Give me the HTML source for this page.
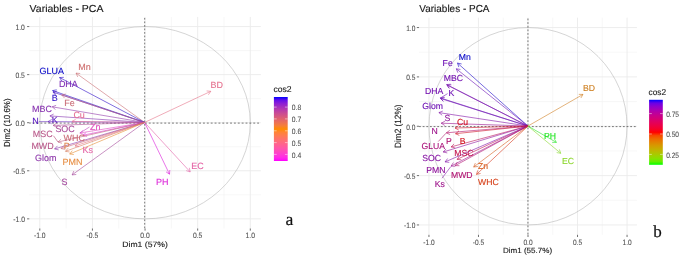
<!DOCTYPE html>
<html><head><meta charset="utf-8"><style>
html,body{margin:0;padding:0;background:#fff;}
body{width:685px;height:260px;overflow:hidden;font-family:"Liberation Sans",sans-serif;}
svg{display:block;filter:blur(0.35px);text-rendering:geometricPrecision;}
</style></head><body>
<svg width="685" height="260" viewBox="0 0 685 260">
<rect width="685" height="260" fill="#ffffff"/>
<line x1="66.11" y1="16.93" x2="66.11" y2="228.47" stroke="#f2f2f2" stroke-width="0.60"/>
<line x1="29.28" y1="194.81" x2="260.83" y2="194.81" stroke="#f2f2f2" stroke-width="0.60"/>
<line x1="118.74" y1="16.93" x2="118.74" y2="228.47" stroke="#f2f2f2" stroke-width="0.60"/>
<line x1="29.28" y1="146.74" x2="260.83" y2="146.74" stroke="#f2f2f2" stroke-width="0.60"/>
<line x1="171.36" y1="16.93" x2="171.36" y2="228.47" stroke="#f2f2f2" stroke-width="0.60"/>
<line x1="29.28" y1="98.66" x2="260.83" y2="98.66" stroke="#f2f2f2" stroke-width="0.60"/>
<line x1="223.99" y1="16.93" x2="223.99" y2="228.47" stroke="#f2f2f2" stroke-width="0.60"/>
<line x1="29.28" y1="50.59" x2="260.83" y2="50.59" stroke="#f2f2f2" stroke-width="0.60"/>
<line x1="39.80" y1="16.93" x2="39.80" y2="228.47" stroke="#ebebeb" stroke-width="0.90"/>
<line x1="29.28" y1="218.85" x2="260.83" y2="218.85" stroke="#ebebeb" stroke-width="0.90"/>
<line x1="92.43" y1="16.93" x2="92.43" y2="228.47" stroke="#ebebeb" stroke-width="0.90"/>
<line x1="29.28" y1="170.78" x2="260.83" y2="170.78" stroke="#ebebeb" stroke-width="0.90"/>
<line x1="145.05" y1="16.93" x2="145.05" y2="228.47" stroke="#ebebeb" stroke-width="0.90"/>
<line x1="29.28" y1="122.70" x2="260.83" y2="122.70" stroke="#ebebeb" stroke-width="0.90"/>
<line x1="197.68" y1="16.93" x2="197.68" y2="228.47" stroke="#ebebeb" stroke-width="0.90"/>
<line x1="29.28" y1="74.62" x2="260.83" y2="74.62" stroke="#ebebeb" stroke-width="0.90"/>
<line x1="250.30" y1="16.93" x2="250.30" y2="228.47" stroke="#ebebeb" stroke-width="0.90"/>
<line x1="29.28" y1="26.55" x2="260.83" y2="26.55" stroke="#ebebeb" stroke-width="0.90"/>
<ellipse cx="145.05" cy="122.70" rx="105.25" ry="96.15" fill="none" stroke="#b8b8b8" stroke-width="0.6"/>
<line x1="29.28" y1="123.10" x2="30.73" y2="123.10" stroke="#222" stroke-width="0.60"/>
<line x1="32.70" y1="123.10" x2="34.60" y2="123.10" stroke="#222" stroke-width="0.60"/>
<line x1="36.57" y1="123.10" x2="38.47" y2="123.10" stroke="#222" stroke-width="0.60"/>
<line x1="40.44" y1="123.10" x2="42.34" y2="123.10" stroke="#222" stroke-width="0.60"/>
<line x1="44.31" y1="123.10" x2="46.21" y2="123.10" stroke="#222" stroke-width="0.60"/>
<line x1="48.18" y1="123.10" x2="50.08" y2="123.10" stroke="#222" stroke-width="0.60"/>
<line x1="52.05" y1="123.10" x2="53.95" y2="123.10" stroke="#222" stroke-width="0.60"/>
<line x1="55.92" y1="123.10" x2="57.82" y2="123.10" stroke="#222" stroke-width="0.60"/>
<line x1="59.79" y1="123.10" x2="61.69" y2="123.10" stroke="#222" stroke-width="0.60"/>
<line x1="63.66" y1="123.10" x2="65.56" y2="123.10" stroke="#222" stroke-width="0.60"/>
<line x1="67.53" y1="123.10" x2="69.43" y2="123.10" stroke="#222" stroke-width="0.60"/>
<line x1="71.40" y1="123.10" x2="73.30" y2="123.10" stroke="#222" stroke-width="0.60"/>
<line x1="75.27" y1="123.10" x2="77.17" y2="123.10" stroke="#222" stroke-width="0.60"/>
<line x1="79.14" y1="123.10" x2="81.04" y2="123.10" stroke="#222" stroke-width="0.60"/>
<line x1="83.01" y1="123.10" x2="84.91" y2="123.10" stroke="#222" stroke-width="0.60"/>
<line x1="86.88" y1="123.10" x2="88.78" y2="123.10" stroke="#222" stroke-width="0.60"/>
<line x1="90.75" y1="123.10" x2="92.65" y2="123.10" stroke="#222" stroke-width="0.60"/>
<line x1="94.62" y1="123.10" x2="96.52" y2="123.10" stroke="#222" stroke-width="0.60"/>
<line x1="98.49" y1="123.10" x2="100.39" y2="123.10" stroke="#222" stroke-width="0.60"/>
<line x1="102.36" y1="123.10" x2="104.26" y2="123.10" stroke="#222" stroke-width="0.60"/>
<line x1="106.23" y1="123.10" x2="108.13" y2="123.10" stroke="#222" stroke-width="0.60"/>
<line x1="110.10" y1="123.10" x2="112.00" y2="123.10" stroke="#222" stroke-width="0.60"/>
<line x1="113.97" y1="123.10" x2="115.87" y2="123.10" stroke="#222" stroke-width="0.60"/>
<line x1="117.84" y1="123.10" x2="119.74" y2="123.10" stroke="#222" stroke-width="0.60"/>
<line x1="121.71" y1="123.10" x2="123.61" y2="123.10" stroke="#222" stroke-width="0.60"/>
<line x1="125.58" y1="123.10" x2="127.48" y2="123.10" stroke="#222" stroke-width="0.60"/>
<line x1="129.45" y1="123.10" x2="131.35" y2="123.10" stroke="#222" stroke-width="0.60"/>
<line x1="133.32" y1="123.10" x2="135.22" y2="123.10" stroke="#222" stroke-width="0.60"/>
<line x1="137.19" y1="123.10" x2="139.09" y2="123.10" stroke="#222" stroke-width="0.60"/>
<line x1="141.06" y1="123.10" x2="142.96" y2="123.10" stroke="#222" stroke-width="0.60"/>
<line x1="144.93" y1="123.10" x2="146.83" y2="123.10" stroke="#222" stroke-width="0.60"/>
<line x1="148.80" y1="123.10" x2="150.70" y2="123.10" stroke="#222" stroke-width="0.60"/>
<line x1="152.67" y1="123.10" x2="154.57" y2="123.10" stroke="#222" stroke-width="0.60"/>
<line x1="156.54" y1="123.10" x2="158.44" y2="123.10" stroke="#222" stroke-width="0.60"/>
<line x1="160.41" y1="123.10" x2="162.31" y2="123.10" stroke="#222" stroke-width="0.60"/>
<line x1="164.28" y1="123.10" x2="166.18" y2="123.10" stroke="#222" stroke-width="0.60"/>
<line x1="168.15" y1="123.10" x2="170.05" y2="123.10" stroke="#222" stroke-width="0.60"/>
<line x1="172.02" y1="123.10" x2="173.92" y2="123.10" stroke="#222" stroke-width="0.60"/>
<line x1="175.89" y1="123.10" x2="177.79" y2="123.10" stroke="#222" stroke-width="0.60"/>
<line x1="179.76" y1="123.10" x2="181.66" y2="123.10" stroke="#222" stroke-width="0.60"/>
<line x1="183.63" y1="123.10" x2="185.53" y2="123.10" stroke="#222" stroke-width="0.60"/>
<line x1="187.50" y1="123.10" x2="189.40" y2="123.10" stroke="#222" stroke-width="0.60"/>
<line x1="191.37" y1="123.10" x2="193.27" y2="123.10" stroke="#222" stroke-width="0.60"/>
<line x1="195.24" y1="123.10" x2="197.14" y2="123.10" stroke="#222" stroke-width="0.60"/>
<line x1="199.11" y1="123.10" x2="201.01" y2="123.10" stroke="#222" stroke-width="0.60"/>
<line x1="202.98" y1="123.10" x2="204.88" y2="123.10" stroke="#222" stroke-width="0.60"/>
<line x1="206.85" y1="123.10" x2="208.75" y2="123.10" stroke="#222" stroke-width="0.60"/>
<line x1="210.72" y1="123.10" x2="212.62" y2="123.10" stroke="#222" stroke-width="0.60"/>
<line x1="214.59" y1="123.10" x2="216.49" y2="123.10" stroke="#222" stroke-width="0.60"/>
<line x1="218.46" y1="123.10" x2="220.36" y2="123.10" stroke="#222" stroke-width="0.60"/>
<line x1="222.33" y1="123.10" x2="224.23" y2="123.10" stroke="#222" stroke-width="0.60"/>
<line x1="226.20" y1="123.10" x2="228.10" y2="123.10" stroke="#222" stroke-width="0.60"/>
<line x1="230.07" y1="123.10" x2="231.97" y2="123.10" stroke="#222" stroke-width="0.60"/>
<line x1="233.94" y1="123.10" x2="235.84" y2="123.10" stroke="#222" stroke-width="0.60"/>
<line x1="237.81" y1="123.10" x2="239.71" y2="123.10" stroke="#222" stroke-width="0.60"/>
<line x1="241.68" y1="123.10" x2="243.58" y2="123.10" stroke="#222" stroke-width="0.60"/>
<line x1="245.55" y1="123.10" x2="247.45" y2="123.10" stroke="#222" stroke-width="0.60"/>
<line x1="249.42" y1="123.10" x2="251.32" y2="123.10" stroke="#222" stroke-width="0.60"/>
<line x1="253.29" y1="123.10" x2="255.19" y2="123.10" stroke="#222" stroke-width="0.60"/>
<line x1="257.16" y1="123.10" x2="259.06" y2="123.10" stroke="#222" stroke-width="0.60"/>
<line x1="144.70" y1="17.92" x2="144.70" y2="19.62" stroke="#222" stroke-width="0.60"/>
<line x1="144.70" y1="21.45" x2="144.70" y2="23.16" stroke="#222" stroke-width="0.60"/>
<line x1="144.70" y1="24.99" x2="144.70" y2="26.69" stroke="#222" stroke-width="0.60"/>
<line x1="144.70" y1="28.52" x2="144.70" y2="30.23" stroke="#222" stroke-width="0.60"/>
<line x1="144.70" y1="32.06" x2="144.70" y2="33.76" stroke="#222" stroke-width="0.60"/>
<line x1="144.70" y1="35.59" x2="144.70" y2="37.29" stroke="#222" stroke-width="0.60"/>
<line x1="144.70" y1="39.13" x2="144.70" y2="40.83" stroke="#222" stroke-width="0.60"/>
<line x1="144.70" y1="42.66" x2="144.70" y2="44.36" stroke="#222" stroke-width="0.60"/>
<line x1="144.70" y1="46.20" x2="144.70" y2="47.90" stroke="#222" stroke-width="0.60"/>
<line x1="144.70" y1="49.73" x2="144.70" y2="51.43" stroke="#222" stroke-width="0.60"/>
<line x1="144.70" y1="53.27" x2="144.70" y2="54.97" stroke="#222" stroke-width="0.60"/>
<line x1="144.70" y1="56.80" x2="144.70" y2="58.50" stroke="#222" stroke-width="0.60"/>
<line x1="144.70" y1="60.34" x2="144.70" y2="62.04" stroke="#222" stroke-width="0.60"/>
<line x1="144.70" y1="63.87" x2="144.70" y2="65.57" stroke="#222" stroke-width="0.60"/>
<line x1="144.70" y1="67.41" x2="144.70" y2="69.11" stroke="#222" stroke-width="0.60"/>
<line x1="144.70" y1="70.94" x2="144.70" y2="72.64" stroke="#222" stroke-width="0.60"/>
<line x1="144.70" y1="74.48" x2="144.70" y2="76.18" stroke="#222" stroke-width="0.60"/>
<line x1="144.70" y1="78.01" x2="144.70" y2="79.71" stroke="#222" stroke-width="0.60"/>
<line x1="144.70" y1="81.55" x2="144.70" y2="83.25" stroke="#222" stroke-width="0.60"/>
<line x1="144.70" y1="85.08" x2="144.70" y2="86.78" stroke="#222" stroke-width="0.60"/>
<line x1="144.70" y1="88.62" x2="144.70" y2="90.32" stroke="#222" stroke-width="0.60"/>
<line x1="144.70" y1="92.15" x2="144.70" y2="93.85" stroke="#222" stroke-width="0.60"/>
<line x1="144.70" y1="95.69" x2="144.70" y2="97.39" stroke="#222" stroke-width="0.60"/>
<line x1="144.70" y1="99.22" x2="144.70" y2="100.92" stroke="#222" stroke-width="0.60"/>
<line x1="144.70" y1="102.76" x2="144.70" y2="104.46" stroke="#222" stroke-width="0.60"/>
<line x1="144.70" y1="106.29" x2="144.70" y2="107.99" stroke="#222" stroke-width="0.60"/>
<line x1="144.70" y1="109.83" x2="144.70" y2="111.53" stroke="#222" stroke-width="0.60"/>
<line x1="144.70" y1="113.36" x2="144.70" y2="115.06" stroke="#222" stroke-width="0.60"/>
<line x1="144.70" y1="116.90" x2="144.70" y2="118.60" stroke="#222" stroke-width="0.60"/>
<line x1="144.70" y1="120.43" x2="144.70" y2="122.13" stroke="#222" stroke-width="0.60"/>
<line x1="144.70" y1="123.97" x2="144.70" y2="125.67" stroke="#222" stroke-width="0.60"/>
<line x1="144.70" y1="127.50" x2="144.70" y2="129.20" stroke="#222" stroke-width="0.60"/>
<line x1="144.70" y1="131.04" x2="144.70" y2="132.74" stroke="#222" stroke-width="0.60"/>
<line x1="144.70" y1="134.57" x2="144.70" y2="136.27" stroke="#222" stroke-width="0.60"/>
<line x1="144.70" y1="138.11" x2="144.70" y2="139.81" stroke="#222" stroke-width="0.60"/>
<line x1="144.70" y1="141.64" x2="144.70" y2="143.34" stroke="#222" stroke-width="0.60"/>
<line x1="144.70" y1="145.18" x2="144.70" y2="146.88" stroke="#222" stroke-width="0.60"/>
<line x1="144.70" y1="148.71" x2="144.70" y2="150.41" stroke="#222" stroke-width="0.60"/>
<line x1="144.70" y1="152.25" x2="144.70" y2="153.95" stroke="#222" stroke-width="0.60"/>
<line x1="144.70" y1="155.78" x2="144.70" y2="157.48" stroke="#222" stroke-width="0.60"/>
<line x1="144.70" y1="159.32" x2="144.70" y2="161.02" stroke="#222" stroke-width="0.60"/>
<line x1="144.70" y1="162.85" x2="144.70" y2="164.55" stroke="#222" stroke-width="0.60"/>
<line x1="144.70" y1="166.39" x2="144.70" y2="168.09" stroke="#222" stroke-width="0.60"/>
<line x1="144.70" y1="169.92" x2="144.70" y2="171.62" stroke="#222" stroke-width="0.60"/>
<line x1="144.70" y1="173.46" x2="144.70" y2="175.16" stroke="#222" stroke-width="0.60"/>
<line x1="144.70" y1="176.99" x2="144.70" y2="178.69" stroke="#222" stroke-width="0.60"/>
<line x1="144.70" y1="180.53" x2="144.70" y2="182.23" stroke="#222" stroke-width="0.60"/>
<line x1="144.70" y1="184.06" x2="144.70" y2="185.76" stroke="#222" stroke-width="0.60"/>
<line x1="144.70" y1="187.60" x2="144.70" y2="189.30" stroke="#222" stroke-width="0.60"/>
<line x1="144.70" y1="191.13" x2="144.70" y2="192.83" stroke="#222" stroke-width="0.60"/>
<line x1="144.70" y1="194.67" x2="144.70" y2="196.37" stroke="#222" stroke-width="0.60"/>
<line x1="144.70" y1="198.20" x2="144.70" y2="199.90" stroke="#222" stroke-width="0.60"/>
<line x1="144.70" y1="201.74" x2="144.70" y2="203.44" stroke="#222" stroke-width="0.60"/>
<line x1="144.70" y1="205.27" x2="144.70" y2="206.97" stroke="#222" stroke-width="0.60"/>
<line x1="144.70" y1="208.81" x2="144.70" y2="210.51" stroke="#222" stroke-width="0.60"/>
<line x1="144.70" y1="212.34" x2="144.70" y2="214.04" stroke="#222" stroke-width="0.60"/>
<line x1="144.70" y1="215.88" x2="144.70" y2="217.58" stroke="#222" stroke-width="0.60"/>
<line x1="144.70" y1="219.41" x2="144.70" y2="221.11" stroke="#222" stroke-width="0.60"/>
<line x1="144.70" y1="222.95" x2="144.70" y2="224.65" stroke="#222" stroke-width="0.60"/>
<line x1="144.70" y1="226.48" x2="144.70" y2="228.18" stroke="#222" stroke-width="0.60"/>
<line x1="27.08" y1="218.85" x2="29.28" y2="218.85" stroke="#333" stroke-width="0.70"/>
<line x1="39.80" y1="228.47" x2="39.80" y2="230.67" stroke="#333" stroke-width="0.70"/>
<text transform="translate(24.90,222.16) scale(0.870,1.000)" font-family="Liberation Sans, sans-serif" font-size="7.80" fill="#4d4d4d" stroke="#4d4d4d" stroke-width="0.08" text-anchor="end" font-weight="normal">-1.0</text>
<text transform="translate(39.80,237.90) scale(0.870,1.000)" font-family="Liberation Sans, sans-serif" font-size="7.80" fill="#4d4d4d" stroke="#4d4d4d" stroke-width="0.08" text-anchor="middle" font-weight="normal">-1.0</text>
<line x1="27.08" y1="170.78" x2="29.28" y2="170.78" stroke="#333" stroke-width="0.70"/>
<line x1="92.43" y1="228.47" x2="92.43" y2="230.67" stroke="#333" stroke-width="0.70"/>
<text transform="translate(24.90,174.08) scale(0.870,1.000)" font-family="Liberation Sans, sans-serif" font-size="7.80" fill="#4d4d4d" stroke="#4d4d4d" stroke-width="0.08" text-anchor="end" font-weight="normal">-0.5</text>
<text transform="translate(92.43,237.90) scale(0.870,1.000)" font-family="Liberation Sans, sans-serif" font-size="7.80" fill="#4d4d4d" stroke="#4d4d4d" stroke-width="0.08" text-anchor="middle" font-weight="normal">-0.5</text>
<line x1="27.08" y1="122.70" x2="29.28" y2="122.70" stroke="#333" stroke-width="0.70"/>
<line x1="145.05" y1="228.47" x2="145.05" y2="230.67" stroke="#333" stroke-width="0.70"/>
<text transform="translate(24.90,126.01) scale(0.870,1.000)" font-family="Liberation Sans, sans-serif" font-size="7.80" fill="#4d4d4d" stroke="#4d4d4d" stroke-width="0.08" text-anchor="end" font-weight="normal">0.0</text>
<text transform="translate(145.05,237.90) scale(0.870,1.000)" font-family="Liberation Sans, sans-serif" font-size="7.80" fill="#4d4d4d" stroke="#4d4d4d" stroke-width="0.08" text-anchor="middle" font-weight="normal">0.0</text>
<line x1="27.08" y1="74.62" x2="29.28" y2="74.62" stroke="#333" stroke-width="0.70"/>
<line x1="197.68" y1="228.47" x2="197.68" y2="230.67" stroke="#333" stroke-width="0.70"/>
<text transform="translate(24.90,77.93) scale(0.870,1.000)" font-family="Liberation Sans, sans-serif" font-size="7.80" fill="#4d4d4d" stroke="#4d4d4d" stroke-width="0.08" text-anchor="end" font-weight="normal">0.5</text>
<text transform="translate(197.68,237.90) scale(0.870,1.000)" font-family="Liberation Sans, sans-serif" font-size="7.80" fill="#4d4d4d" stroke="#4d4d4d" stroke-width="0.08" text-anchor="middle" font-weight="normal">0.5</text>
<line x1="27.08" y1="26.55" x2="29.28" y2="26.55" stroke="#333" stroke-width="0.70"/>
<line x1="250.30" y1="228.47" x2="250.30" y2="230.67" stroke="#333" stroke-width="0.70"/>
<text transform="translate(24.90,29.86) scale(0.870,1.000)" font-family="Liberation Sans, sans-serif" font-size="7.80" fill="#4d4d4d" stroke="#4d4d4d" stroke-width="0.08" text-anchor="end" font-weight="normal">1.0</text>
<text transform="translate(250.30,237.90) scale(0.870,1.000)" font-family="Liberation Sans, sans-serif" font-size="7.80" fill="#4d4d4d" stroke="#4d4d4d" stroke-width="0.08" text-anchor="middle" font-weight="normal">1.0</text>
<line x1="144.60" y1="122.45" x2="76.00" y2="73.10" stroke="#cb6e74" stroke-width="0.60"/>
<line x1="76.00" y1="73.10" x2="80.18" y2="73.52" stroke="#cb6e74" stroke-width="0.60"/>
<line x1="76.00" y1="73.10" x2="77.73" y2="76.93" stroke="#cb6e74" stroke-width="0.60"/>
<line x1="144.60" y1="122.45" x2="59.60" y2="77.50" stroke="#2b0cc7" stroke-width="0.60"/>
<line x1="59.60" y1="77.50" x2="63.80" y2="77.34" stroke="#2b0cc7" stroke-width="0.60"/>
<line x1="59.60" y1="77.50" x2="61.83" y2="81.06" stroke="#2b0cc7" stroke-width="0.60"/>
<line x1="144.60" y1="122.45" x2="52.60" y2="90.60" stroke="#1c0ac7" stroke-width="0.60"/>
<line x1="52.60" y1="90.60" x2="56.72" y2="89.81" stroke="#1c0ac7" stroke-width="0.60"/>
<line x1="52.60" y1="90.60" x2="55.35" y2="93.77" stroke="#1c0ac7" stroke-width="0.60"/>
<line x1="144.60" y1="122.45" x2="53.00" y2="92.10" stroke="#4e15c3" stroke-width="0.60"/>
<line x1="53.00" y1="92.10" x2="57.11" y2="91.25" stroke="#4e15c3" stroke-width="0.60"/>
<line x1="53.00" y1="92.10" x2="55.79" y2="95.24" stroke="#4e15c3" stroke-width="0.60"/>
<line x1="144.60" y1="122.45" x2="61.70" y2="94.90" stroke="#c6677b" stroke-width="0.60"/>
<line x1="61.70" y1="94.90" x2="65.81" y2="94.05" stroke="#c6677b" stroke-width="0.60"/>
<line x1="61.70" y1="94.90" x2="64.49" y2="98.04" stroke="#c6677b" stroke-width="0.60"/>
<line x1="144.60" y1="122.45" x2="52.20" y2="106.80" stroke="#9239a9" stroke-width="0.60"/>
<line x1="52.20" y1="106.80" x2="56.14" y2="105.34" stroke="#9239a9" stroke-width="0.60"/>
<line x1="52.20" y1="106.80" x2="55.44" y2="109.48" stroke="#9239a9" stroke-width="0.60"/>
<line x1="144.60" y1="122.45" x2="49.90" y2="115.90" stroke="#8430b0" stroke-width="0.60"/>
<line x1="49.90" y1="115.90" x2="53.67" y2="114.06" stroke="#8430b0" stroke-width="0.60"/>
<line x1="49.90" y1="115.90" x2="53.38" y2="118.25" stroke="#8430b0" stroke-width="0.60"/>
<line x1="144.60" y1="122.45" x2="48.00" y2="121.60" stroke="#6620bd" stroke-width="0.60"/>
<line x1="48.00" y1="121.60" x2="51.66" y2="119.53" stroke="#6620bd" stroke-width="0.60"/>
<line x1="48.00" y1="121.60" x2="51.62" y2="123.73" stroke="#6620bd" stroke-width="0.60"/>
<line x1="144.60" y1="122.45" x2="72.00" y2="121.40" stroke="#e56e92" stroke-width="0.60"/>
<line x1="72.00" y1="121.40" x2="75.67" y2="119.35" stroke="#e56e92" stroke-width="0.60"/>
<line x1="72.00" y1="121.40" x2="75.61" y2="123.55" stroke="#e56e92" stroke-width="0.60"/>
<line x1="144.60" y1="122.45" x2="53.10" y2="125.40" stroke="#ac4e95" stroke-width="0.60"/>
<line x1="53.10" y1="125.40" x2="56.67" y2="123.18" stroke="#ac4e95" stroke-width="0.60"/>
<line x1="53.10" y1="125.40" x2="56.80" y2="127.38" stroke="#ac4e95" stroke-width="0.60"/>
<line x1="144.60" y1="122.45" x2="79.90" y2="133.00" stroke="#e14cc2" stroke-width="0.60"/>
<line x1="79.90" y1="133.00" x2="83.15" y2="130.34" stroke="#e14cc2" stroke-width="0.60"/>
<line x1="79.90" y1="133.00" x2="83.83" y2="134.49" stroke="#e14cc2" stroke-width="0.60"/>
<line x1="144.60" y1="122.45" x2="83.10" y2="135.20" stroke="#de37d2" stroke-width="0.60"/>
<line x1="83.10" y1="135.20" x2="86.24" y2="132.41" stroke="#de37d2" stroke-width="0.60"/>
<line x1="83.10" y1="135.20" x2="87.09" y2="136.52" stroke="#de37d2" stroke-width="0.60"/>
<line x1="144.60" y1="122.45" x2="58.00" y2="142.00" stroke="#c06182" stroke-width="0.60"/>
<line x1="58.00" y1="142.00" x2="61.09" y2="139.15" stroke="#c06182" stroke-width="0.60"/>
<line x1="58.00" y1="142.00" x2="62.01" y2="143.25" stroke="#c06182" stroke-width="0.60"/>
<line x1="144.60" y1="122.45" x2="54.60" y2="148.90" stroke="#8b35ac" stroke-width="0.60"/>
<line x1="54.60" y1="148.90" x2="57.50" y2="145.86" stroke="#8b35ac" stroke-width="0.60"/>
<line x1="54.60" y1="148.90" x2="58.68" y2="149.89" stroke="#8b35ac" stroke-width="0.60"/>
<line x1="144.60" y1="122.45" x2="61.10" y2="148.50" stroke="#c76879" stroke-width="0.60"/>
<line x1="61.10" y1="148.50" x2="63.95" y2="145.41" stroke="#c76879" stroke-width="0.60"/>
<line x1="61.10" y1="148.50" x2="65.20" y2="149.42" stroke="#c76879" stroke-width="0.60"/>
<line x1="144.60" y1="122.45" x2="65.50" y2="151.30" stroke="#d97e5e" stroke-width="0.60"/>
<line x1="65.50" y1="151.30" x2="68.20" y2="148.08" stroke="#d97e5e" stroke-width="0.60"/>
<line x1="65.50" y1="151.30" x2="69.64" y2="152.03" stroke="#d97e5e" stroke-width="0.60"/>
<line x1="144.60" y1="122.45" x2="75.00" y2="146.00" stroke="#e57587" stroke-width="0.60"/>
<line x1="75.00" y1="146.00" x2="77.77" y2="142.84" stroke="#e57587" stroke-width="0.60"/>
<line x1="75.00" y1="146.00" x2="79.12" y2="146.82" stroke="#e57587" stroke-width="0.60"/>
<line x1="144.60" y1="122.45" x2="69.70" y2="154.00" stroke="#e68f34" stroke-width="0.60"/>
<line x1="69.70" y1="154.00" x2="72.24" y2="150.65" stroke="#e68f34" stroke-width="0.60"/>
<line x1="69.70" y1="154.00" x2="73.87" y2="154.52" stroke="#e68f34" stroke-width="0.60"/>
<line x1="144.60" y1="122.45" x2="72.10" y2="174.90" stroke="#a5489b" stroke-width="0.60"/>
<line x1="72.10" y1="174.90" x2="73.82" y2="171.07" stroke="#a5489b" stroke-width="0.60"/>
<line x1="72.10" y1="174.90" x2="76.28" y2="174.47" stroke="#a5489b" stroke-width="0.60"/>
<line x1="144.60" y1="122.45" x2="169.50" y2="174.20" stroke="#da1ada" stroke-width="0.60"/>
<line x1="169.50" y1="174.20" x2="166.03" y2="171.83" stroke="#da1ada" stroke-width="0.60"/>
<line x1="169.50" y1="174.20" x2="169.82" y2="170.01" stroke="#da1ada" stroke-width="0.60"/>
<line x1="144.60" y1="122.45" x2="190.20" y2="171.90" stroke="#e362a7" stroke-width="0.60"/>
<line x1="190.20" y1="171.90" x2="186.19" y2="170.65" stroke="#e362a7" stroke-width="0.60"/>
<line x1="190.20" y1="171.90" x2="189.28" y2="167.80" stroke="#e362a7" stroke-width="0.60"/>
<line x1="144.60" y1="122.45" x2="210.80" y2="91.30" stroke="#e5738a" stroke-width="0.60"/>
<line x1="210.80" y1="91.30" x2="208.40" y2="94.75" stroke="#e5738a" stroke-width="0.60"/>
<line x1="210.80" y1="91.30" x2="206.61" y2="90.95" stroke="#e5738a" stroke-width="0.60"/>
<line x1="38.80" y1="121.60" x2="48.00" y2="121.60" stroke="#7444c0" stroke-width="0.65"/>
<line x1="53.50" y1="135.80" x2="58.00" y2="142.00" stroke="#ba567e" stroke-width="0.65"/>
<line x1="79.90" y1="133.00" x2="89.50" y2="127.00" stroke="#c951c9" stroke-width="0.65"/>
<text transform="translate(78.30,69.80) scale(0.985,1.000)" font-family="Liberation Sans, sans-serif" font-size="9.10" fill="#ce7070" stroke="#ce7070" stroke-width="0.12" text-anchor="start" font-weight="normal">Mn</text>
<text transform="translate(39.50,73.50) scale(0.985,1.000)" font-family="Liberation Sans, sans-serif" font-size="9.10" fill="#0707c7" stroke="#0707c7" stroke-width="0.12" text-anchor="start" font-weight="normal">GLUA</text>
<text transform="translate(58.90,86.60) scale(0.985,1.000)" font-family="Liberation Sans, sans-serif" font-size="9.10" fill="#7d2cb4" stroke="#7d2cb4" stroke-width="0.12" text-anchor="start" font-weight="normal">DHA</text>
<text transform="translate(51.80,100.50) scale(0.985,1.000)" font-family="Liberation Sans, sans-serif" font-size="9.10" fill="#2c0cc7" stroke="#2c0cc7" stroke-width="0.12" text-anchor="start" font-weight="normal">B</text>
<text transform="translate(64.20,105.60) scale(0.985,1.000)" font-family="Liberation Sans, sans-serif" font-size="9.10" fill="#ca6c76" stroke="#ca6c76" stroke-width="0.12" text-anchor="start" font-weight="normal">Fe</text>
<text transform="translate(32.00,112.30) scale(0.985,1.000)" font-family="Liberation Sans, sans-serif" font-size="9.10" fill="#8631af" stroke="#8631af" stroke-width="0.12" text-anchor="start" font-weight="normal">MBC</text>
<text transform="translate(51.80,123.00) scale(0.985,1.000)" font-family="Liberation Sans, sans-serif" font-size="9.10" fill="#591ac0" stroke="#591ac0" stroke-width="0.12" text-anchor="start" font-weight="normal">K</text>
<text transform="translate(32.30,124.20) scale(0.985,1.000)" font-family="Liberation Sans, sans-serif" font-size="9.10" fill="#591ac0" stroke="#591ac0" stroke-width="0.12" text-anchor="start" font-weight="normal">N</text>
<text transform="translate(73.40,117.70) scale(0.985,1.000)" font-family="Liberation Sans, sans-serif" font-size="9.10" fill="#e56e94" stroke="#e56e94" stroke-width="0.12" text-anchor="start" font-weight="normal">Cu</text>
<text transform="translate(55.40,131.90) scale(0.985,1.000)" font-family="Liberation Sans, sans-serif" font-size="9.10" fill="#a94b99" stroke="#a94b99" stroke-width="0.12" text-anchor="start" font-weight="normal">SOC</text>
<text transform="translate(90.00,129.60) scale(0.985,1.000)" font-family="Liberation Sans, sans-serif" font-size="9.10" fill="#e14fbf" stroke="#e14fbf" stroke-width="0.12" text-anchor="start" font-weight="normal">Zn</text>
<text transform="translate(32.80,136.50) scale(0.985,1.000)" font-family="Liberation Sans, sans-serif" font-size="9.10" fill="#b9598a" stroke="#b9598a" stroke-width="0.12" text-anchor="start" font-weight="normal">MSC</text>
<text transform="translate(63.50,140.80) scale(0.985,1.000)" font-family="Liberation Sans, sans-serif" font-size="9.10" fill="#ca6c76" stroke="#ca6c76" stroke-width="0.12" text-anchor="start" font-weight="normal">WHC</text>
<text transform="translate(31.40,148.80) scale(0.985,1.000)" font-family="Liberation Sans, sans-serif" font-size="9.10" fill="#b9598a" stroke="#b9598a" stroke-width="0.12" text-anchor="start" font-weight="normal">MWD</text>
<text transform="translate(63.70,148.80) scale(0.985,1.000)" font-family="Liberation Sans, sans-serif" font-size="9.10" fill="#e0874f" stroke="#e0874f" stroke-width="0.12" text-anchor="start" font-weight="normal">P</text>
<text transform="translate(82.50,152.80) scale(0.985,1.000)" font-family="Liberation Sans, sans-serif" font-size="9.10" fill="#e464a5" stroke="#e464a5" stroke-width="0.12" text-anchor="start" font-weight="normal">Ks</text>
<text transform="translate(35.10,160.60) scale(0.985,1.000)" font-family="Liberation Sans, sans-serif" font-size="9.10" fill="#8e37ab" stroke="#8e37ab" stroke-width="0.12" text-anchor="start" font-weight="normal">Glom</text>
<text transform="translate(62.50,165.00) scale(0.985,1.000)" font-family="Liberation Sans, sans-serif" font-size="9.10" fill="#e78e43" stroke="#e78e43" stroke-width="0.12" text-anchor="start" font-weight="normal">PMN</text>
<text transform="translate(61.60,185.10) scale(0.985,1.000)" font-family="Liberation Sans, sans-serif" font-size="9.10" fill="#a3469d" stroke="#a3469d" stroke-width="0.12" text-anchor="start" font-weight="normal">S</text>
<text transform="translate(156.10,184.90) scale(0.985,1.000)" font-family="Liberation Sans, sans-serif" font-size="9.10" fill="#dc28d8" stroke="#dc28d8" stroke-width="0.12" text-anchor="start" font-weight="normal">PH</text>
<text transform="translate(191.20,168.90) scale(0.985,1.000)" font-family="Liberation Sans, sans-serif" font-size="9.10" fill="#e464a5" stroke="#e464a5" stroke-width="0.12" text-anchor="start" font-weight="normal">EC</text>
<text transform="translate(210.60,87.80) scale(0.985,1.000)" font-family="Liberation Sans, sans-serif" font-size="9.10" fill="#e5718e" stroke="#e5718e" stroke-width="0.12" text-anchor="start" font-weight="normal">BD</text>
<text transform="translate(29.58,11.80) scale(1.030,1.000)" font-family="Liberation Sans, sans-serif" font-size="10.20" fill="#1a1a1a" stroke="#1a1a1a" stroke-width="0.15" text-anchor="start" font-weight="normal">Variables - PCA</text>
<text transform="translate(145.05,246.80) scale(1.120,1.000)" font-family="Liberation Sans, sans-serif" font-size="7.70" fill="#1a1a1a" stroke="#1a1a1a" stroke-width="0.12" text-anchor="middle" font-weight="normal">Dim1 (57%)</text>
<text transform="translate(9.80,122.70) rotate(-90) scale(1.000,1.100)" font-family="Liberation Sans, sans-serif" font-size="7.95" fill="#1a1a1a" stroke="#1a1a1a" stroke-width="0.12" text-anchor="middle" font-weight="normal">Dim2 (10.6%)</text>
<defs><linearGradient id="gL" x1="0" y1="0" x2="0" y2="1"><stop offset="0.000" stop-color="#0000ff"/><stop offset="0.050" stop-color="#650eea"/><stop offset="0.100" stop-color="#8a1ed5"/><stop offset="0.150" stop-color="#a32dc0"/><stop offset="0.200" stop-color="#b73bab"/><stop offset="0.250" stop-color="#c84996"/><stop offset="0.300" stop-color="#d65781"/><stop offset="0.350" stop-color="#e2646b"/><stop offset="0.400" stop-color="#ec7154"/><stop offset="0.450" stop-color="#f67f38"/><stop offset="0.500" stop-color="#ff8c00"/><stop offset="0.550" stop-color="#ff8434"/><stop offset="0.600" stop-color="#ff7c50"/><stop offset="0.650" stop-color="#ff7368"/><stop offset="0.700" stop-color="#ff6a7e"/><stop offset="0.750" stop-color="#ff6093"/><stop offset="0.800" stop-color="#ff56a9"/><stop offset="0.850" stop-color="#ff49be"/><stop offset="0.900" stop-color="#ff3bd4"/><stop offset="0.950" stop-color="#ff28e9"/><stop offset="1.000" stop-color="#ff00ff"/></linearGradient></defs>
<rect x="273.90" y="97.00" width="13.80" height="64.00" fill="url(#gL)"/>
<text transform="translate(273.40,92.40) scale(1.040,1.000)" font-family="Liberation Sans, sans-serif" font-size="8.30" fill="#1a1a1a" stroke="#1a1a1a" stroke-width="0.12" text-anchor="start" font-weight="normal">cos2</text>
<line x1="273.90" y1="107.10" x2="276.66" y2="107.10" stroke="#ffffff" stroke-width="0.60" stroke-opacity="0.8"/>
<line x1="284.94" y1="107.10" x2="287.70" y2="107.10" stroke="#ffffff" stroke-width="0.60" stroke-opacity="0.8"/>
<text transform="translate(291.80,110.26) scale(0.870,1.000)" font-family="Liberation Sans, sans-serif" font-size="7.80" fill="#4d4d4d" stroke="#4d4d4d" stroke-width="0.08" text-anchor="start" font-weight="normal">0.8</text>
<line x1="273.90" y1="118.90" x2="276.66" y2="118.90" stroke="#ffffff" stroke-width="0.60" stroke-opacity="0.8"/>
<line x1="284.94" y1="118.90" x2="287.70" y2="118.90" stroke="#ffffff" stroke-width="0.60" stroke-opacity="0.8"/>
<text transform="translate(291.80,122.06) scale(0.870,1.000)" font-family="Liberation Sans, sans-serif" font-size="7.80" fill="#4d4d4d" stroke="#4d4d4d" stroke-width="0.08" text-anchor="start" font-weight="normal">0.7</text>
<line x1="273.90" y1="130.80" x2="276.66" y2="130.80" stroke="#ffffff" stroke-width="0.60" stroke-opacity="0.8"/>
<line x1="284.94" y1="130.80" x2="287.70" y2="130.80" stroke="#ffffff" stroke-width="0.60" stroke-opacity="0.8"/>
<text transform="translate(291.80,133.96) scale(0.870,1.000)" font-family="Liberation Sans, sans-serif" font-size="7.80" fill="#4d4d4d" stroke="#4d4d4d" stroke-width="0.08" text-anchor="start" font-weight="normal">0.6</text>
<line x1="273.90" y1="142.60" x2="276.66" y2="142.60" stroke="#ffffff" stroke-width="0.60" stroke-opacity="0.8"/>
<line x1="284.94" y1="142.60" x2="287.70" y2="142.60" stroke="#ffffff" stroke-width="0.60" stroke-opacity="0.8"/>
<text transform="translate(291.80,145.76) scale(0.870,1.000)" font-family="Liberation Sans, sans-serif" font-size="7.80" fill="#4d4d4d" stroke="#4d4d4d" stroke-width="0.08" text-anchor="start" font-weight="normal">0.5</text>
<line x1="273.90" y1="154.40" x2="276.66" y2="154.40" stroke="#ffffff" stroke-width="0.60" stroke-opacity="0.8"/>
<line x1="284.94" y1="154.40" x2="287.70" y2="154.40" stroke="#ffffff" stroke-width="0.60" stroke-opacity="0.8"/>
<text transform="translate(291.80,157.56) scale(0.870,1.000)" font-family="Liberation Sans, sans-serif" font-size="7.80" fill="#4d4d4d" stroke="#4d4d4d" stroke-width="0.08" text-anchor="start" font-weight="normal">0.4</text>
<line x1="453.71" y1="17.68" x2="453.71" y2="234.82" stroke="#f2f2f2" stroke-width="0.60"/>
<line x1="419.04" y1="200.28" x2="636.96" y2="200.28" stroke="#f2f2f2" stroke-width="0.60"/>
<line x1="503.24" y1="17.68" x2="503.24" y2="234.82" stroke="#f2f2f2" stroke-width="0.60"/>
<line x1="419.04" y1="150.93" x2="636.96" y2="150.93" stroke="#f2f2f2" stroke-width="0.60"/>
<line x1="552.76" y1="17.68" x2="552.76" y2="234.82" stroke="#f2f2f2" stroke-width="0.60"/>
<line x1="419.04" y1="101.58" x2="636.96" y2="101.58" stroke="#f2f2f2" stroke-width="0.60"/>
<line x1="602.29" y1="17.68" x2="602.29" y2="234.82" stroke="#f2f2f2" stroke-width="0.60"/>
<line x1="419.04" y1="52.22" x2="636.96" y2="52.22" stroke="#f2f2f2" stroke-width="0.60"/>
<line x1="428.95" y1="17.68" x2="428.95" y2="234.82" stroke="#ebebeb" stroke-width="0.90"/>
<line x1="419.04" y1="224.95" x2="636.96" y2="224.95" stroke="#ebebeb" stroke-width="0.90"/>
<line x1="478.48" y1="17.68" x2="478.48" y2="234.82" stroke="#ebebeb" stroke-width="0.90"/>
<line x1="419.04" y1="175.60" x2="636.96" y2="175.60" stroke="#ebebeb" stroke-width="0.90"/>
<line x1="528.00" y1="17.68" x2="528.00" y2="234.82" stroke="#ebebeb" stroke-width="0.90"/>
<line x1="419.04" y1="126.25" x2="636.96" y2="126.25" stroke="#ebebeb" stroke-width="0.90"/>
<line x1="577.52" y1="17.68" x2="577.52" y2="234.82" stroke="#ebebeb" stroke-width="0.90"/>
<line x1="419.04" y1="76.90" x2="636.96" y2="76.90" stroke="#ebebeb" stroke-width="0.90"/>
<line x1="627.05" y1="17.68" x2="627.05" y2="234.82" stroke="#ebebeb" stroke-width="0.90"/>
<line x1="419.04" y1="27.55" x2="636.96" y2="27.55" stroke="#ebebeb" stroke-width="0.90"/>
<ellipse cx="528.00" cy="126.25" rx="99.05" ry="98.70" fill="none" stroke="#b8b8b8" stroke-width="0.6"/>
<line x1="419.05" y1="126.60" x2="420.85" y2="126.60" stroke="#222" stroke-width="0.60"/>
<line x1="422.69" y1="126.60" x2="424.49" y2="126.60" stroke="#222" stroke-width="0.60"/>
<line x1="426.33" y1="126.60" x2="428.13" y2="126.60" stroke="#222" stroke-width="0.60"/>
<line x1="429.97" y1="126.60" x2="431.77" y2="126.60" stroke="#222" stroke-width="0.60"/>
<line x1="433.61" y1="126.60" x2="435.41" y2="126.60" stroke="#222" stroke-width="0.60"/>
<line x1="437.25" y1="126.60" x2="439.05" y2="126.60" stroke="#222" stroke-width="0.60"/>
<line x1="440.89" y1="126.60" x2="442.69" y2="126.60" stroke="#222" stroke-width="0.60"/>
<line x1="444.53" y1="126.60" x2="446.33" y2="126.60" stroke="#222" stroke-width="0.60"/>
<line x1="448.18" y1="126.60" x2="449.98" y2="126.60" stroke="#222" stroke-width="0.60"/>
<line x1="451.82" y1="126.60" x2="453.62" y2="126.60" stroke="#222" stroke-width="0.60"/>
<line x1="455.46" y1="126.60" x2="457.26" y2="126.60" stroke="#222" stroke-width="0.60"/>
<line x1="459.10" y1="126.60" x2="460.90" y2="126.60" stroke="#222" stroke-width="0.60"/>
<line x1="462.74" y1="126.60" x2="464.54" y2="126.60" stroke="#222" stroke-width="0.60"/>
<line x1="466.38" y1="126.60" x2="468.18" y2="126.60" stroke="#222" stroke-width="0.60"/>
<line x1="470.02" y1="126.60" x2="471.82" y2="126.60" stroke="#222" stroke-width="0.60"/>
<line x1="473.66" y1="126.60" x2="475.46" y2="126.60" stroke="#222" stroke-width="0.60"/>
<line x1="477.30" y1="126.60" x2="479.10" y2="126.60" stroke="#222" stroke-width="0.60"/>
<line x1="480.95" y1="126.60" x2="482.75" y2="126.60" stroke="#222" stroke-width="0.60"/>
<line x1="484.59" y1="126.60" x2="486.39" y2="126.60" stroke="#222" stroke-width="0.60"/>
<line x1="488.23" y1="126.60" x2="490.03" y2="126.60" stroke="#222" stroke-width="0.60"/>
<line x1="491.87" y1="126.60" x2="493.67" y2="126.60" stroke="#222" stroke-width="0.60"/>
<line x1="495.51" y1="126.60" x2="497.31" y2="126.60" stroke="#222" stroke-width="0.60"/>
<line x1="499.15" y1="126.60" x2="500.95" y2="126.60" stroke="#222" stroke-width="0.60"/>
<line x1="502.79" y1="126.60" x2="504.59" y2="126.60" stroke="#222" stroke-width="0.60"/>
<line x1="506.43" y1="126.60" x2="508.23" y2="126.60" stroke="#222" stroke-width="0.60"/>
<line x1="510.07" y1="126.60" x2="511.87" y2="126.60" stroke="#222" stroke-width="0.60"/>
<line x1="513.71" y1="126.60" x2="515.51" y2="126.60" stroke="#222" stroke-width="0.60"/>
<line x1="517.36" y1="126.60" x2="519.16" y2="126.60" stroke="#222" stroke-width="0.60"/>
<line x1="521.00" y1="126.60" x2="522.80" y2="126.60" stroke="#222" stroke-width="0.60"/>
<line x1="524.64" y1="126.60" x2="526.44" y2="126.60" stroke="#222" stroke-width="0.60"/>
<line x1="528.28" y1="126.60" x2="530.08" y2="126.60" stroke="#222" stroke-width="0.60"/>
<line x1="531.92" y1="126.60" x2="533.72" y2="126.60" stroke="#222" stroke-width="0.60"/>
<line x1="535.56" y1="126.60" x2="537.36" y2="126.60" stroke="#222" stroke-width="0.60"/>
<line x1="539.20" y1="126.60" x2="541.00" y2="126.60" stroke="#222" stroke-width="0.60"/>
<line x1="542.84" y1="126.60" x2="544.64" y2="126.60" stroke="#222" stroke-width="0.60"/>
<line x1="546.48" y1="126.60" x2="548.28" y2="126.60" stroke="#222" stroke-width="0.60"/>
<line x1="550.12" y1="126.60" x2="551.92" y2="126.60" stroke="#222" stroke-width="0.60"/>
<line x1="553.76" y1="126.60" x2="555.56" y2="126.60" stroke="#222" stroke-width="0.60"/>
<line x1="557.41" y1="126.60" x2="559.21" y2="126.60" stroke="#222" stroke-width="0.60"/>
<line x1="561.05" y1="126.60" x2="562.85" y2="126.60" stroke="#222" stroke-width="0.60"/>
<line x1="564.69" y1="126.60" x2="566.49" y2="126.60" stroke="#222" stroke-width="0.60"/>
<line x1="568.33" y1="126.60" x2="570.13" y2="126.60" stroke="#222" stroke-width="0.60"/>
<line x1="571.97" y1="126.60" x2="573.77" y2="126.60" stroke="#222" stroke-width="0.60"/>
<line x1="575.61" y1="126.60" x2="577.41" y2="126.60" stroke="#222" stroke-width="0.60"/>
<line x1="579.25" y1="126.60" x2="581.05" y2="126.60" stroke="#222" stroke-width="0.60"/>
<line x1="582.89" y1="126.60" x2="584.69" y2="126.60" stroke="#222" stroke-width="0.60"/>
<line x1="586.53" y1="126.60" x2="588.33" y2="126.60" stroke="#222" stroke-width="0.60"/>
<line x1="590.17" y1="126.60" x2="591.97" y2="126.60" stroke="#222" stroke-width="0.60"/>
<line x1="593.82" y1="126.60" x2="595.62" y2="126.60" stroke="#222" stroke-width="0.60"/>
<line x1="597.46" y1="126.60" x2="599.26" y2="126.60" stroke="#222" stroke-width="0.60"/>
<line x1="601.10" y1="126.60" x2="602.90" y2="126.60" stroke="#222" stroke-width="0.60"/>
<line x1="604.74" y1="126.60" x2="606.54" y2="126.60" stroke="#222" stroke-width="0.60"/>
<line x1="608.38" y1="126.60" x2="610.18" y2="126.60" stroke="#222" stroke-width="0.60"/>
<line x1="612.02" y1="126.60" x2="613.82" y2="126.60" stroke="#222" stroke-width="0.60"/>
<line x1="615.66" y1="126.60" x2="617.46" y2="126.60" stroke="#222" stroke-width="0.60"/>
<line x1="619.30" y1="126.60" x2="621.10" y2="126.60" stroke="#222" stroke-width="0.60"/>
<line x1="622.94" y1="126.60" x2="624.74" y2="126.60" stroke="#222" stroke-width="0.60"/>
<line x1="626.58" y1="126.60" x2="628.38" y2="126.60" stroke="#222" stroke-width="0.60"/>
<line x1="630.23" y1="126.60" x2="632.03" y2="126.60" stroke="#222" stroke-width="0.60"/>
<line x1="633.87" y1="126.60" x2="635.67" y2="126.60" stroke="#222" stroke-width="0.60"/>
<line x1="527.95" y1="18.52" x2="527.95" y2="20.32" stroke="#222" stroke-width="0.60"/>
<line x1="527.95" y1="22.15" x2="527.95" y2="23.95" stroke="#222" stroke-width="0.60"/>
<line x1="527.95" y1="25.78" x2="527.95" y2="27.58" stroke="#222" stroke-width="0.60"/>
<line x1="527.95" y1="29.41" x2="527.95" y2="31.21" stroke="#222" stroke-width="0.60"/>
<line x1="527.95" y1="33.04" x2="527.95" y2="34.84" stroke="#222" stroke-width="0.60"/>
<line x1="527.95" y1="36.67" x2="527.95" y2="38.47" stroke="#222" stroke-width="0.60"/>
<line x1="527.95" y1="40.30" x2="527.95" y2="42.10" stroke="#222" stroke-width="0.60"/>
<line x1="527.95" y1="43.93" x2="527.95" y2="45.73" stroke="#222" stroke-width="0.60"/>
<line x1="527.95" y1="47.56" x2="527.95" y2="49.36" stroke="#222" stroke-width="0.60"/>
<line x1="527.95" y1="51.19" x2="527.95" y2="52.99" stroke="#222" stroke-width="0.60"/>
<line x1="527.95" y1="54.82" x2="527.95" y2="56.62" stroke="#222" stroke-width="0.60"/>
<line x1="527.95" y1="58.45" x2="527.95" y2="60.25" stroke="#222" stroke-width="0.60"/>
<line x1="527.95" y1="62.08" x2="527.95" y2="63.88" stroke="#222" stroke-width="0.60"/>
<line x1="527.95" y1="65.71" x2="527.95" y2="67.51" stroke="#222" stroke-width="0.60"/>
<line x1="527.95" y1="69.34" x2="527.95" y2="71.14" stroke="#222" stroke-width="0.60"/>
<line x1="527.95" y1="72.97" x2="527.95" y2="74.77" stroke="#222" stroke-width="0.60"/>
<line x1="527.95" y1="76.60" x2="527.95" y2="78.40" stroke="#222" stroke-width="0.60"/>
<line x1="527.95" y1="80.23" x2="527.95" y2="82.03" stroke="#222" stroke-width="0.60"/>
<line x1="527.95" y1="83.86" x2="527.95" y2="85.66" stroke="#222" stroke-width="0.60"/>
<line x1="527.95" y1="87.49" x2="527.95" y2="89.29" stroke="#222" stroke-width="0.60"/>
<line x1="527.95" y1="91.12" x2="527.95" y2="92.92" stroke="#222" stroke-width="0.60"/>
<line x1="527.95" y1="94.75" x2="527.95" y2="96.55" stroke="#222" stroke-width="0.60"/>
<line x1="527.95" y1="98.38" x2="527.95" y2="100.18" stroke="#222" stroke-width="0.60"/>
<line x1="527.95" y1="102.01" x2="527.95" y2="103.81" stroke="#222" stroke-width="0.60"/>
<line x1="527.95" y1="105.64" x2="527.95" y2="107.44" stroke="#222" stroke-width="0.60"/>
<line x1="527.95" y1="109.27" x2="527.95" y2="111.07" stroke="#222" stroke-width="0.60"/>
<line x1="527.95" y1="112.90" x2="527.95" y2="114.70" stroke="#222" stroke-width="0.60"/>
<line x1="527.95" y1="116.53" x2="527.95" y2="118.33" stroke="#222" stroke-width="0.60"/>
<line x1="527.95" y1="120.16" x2="527.95" y2="121.96" stroke="#222" stroke-width="0.60"/>
<line x1="527.95" y1="123.79" x2="527.95" y2="125.59" stroke="#222" stroke-width="0.60"/>
<line x1="527.95" y1="127.42" x2="527.95" y2="129.22" stroke="#222" stroke-width="0.60"/>
<line x1="527.95" y1="131.05" x2="527.95" y2="132.85" stroke="#222" stroke-width="0.60"/>
<line x1="527.95" y1="134.68" x2="527.95" y2="136.48" stroke="#222" stroke-width="0.60"/>
<line x1="527.95" y1="138.31" x2="527.95" y2="140.11" stroke="#222" stroke-width="0.60"/>
<line x1="527.95" y1="141.94" x2="527.95" y2="143.74" stroke="#222" stroke-width="0.60"/>
<line x1="527.95" y1="145.57" x2="527.95" y2="147.37" stroke="#222" stroke-width="0.60"/>
<line x1="527.95" y1="149.20" x2="527.95" y2="151.00" stroke="#222" stroke-width="0.60"/>
<line x1="527.95" y1="152.83" x2="527.95" y2="154.63" stroke="#222" stroke-width="0.60"/>
<line x1="527.95" y1="156.46" x2="527.95" y2="158.26" stroke="#222" stroke-width="0.60"/>
<line x1="527.95" y1="160.09" x2="527.95" y2="161.89" stroke="#222" stroke-width="0.60"/>
<line x1="527.95" y1="163.72" x2="527.95" y2="165.52" stroke="#222" stroke-width="0.60"/>
<line x1="527.95" y1="167.35" x2="527.95" y2="169.15" stroke="#222" stroke-width="0.60"/>
<line x1="527.95" y1="170.98" x2="527.95" y2="172.78" stroke="#222" stroke-width="0.60"/>
<line x1="527.95" y1="174.61" x2="527.95" y2="176.41" stroke="#222" stroke-width="0.60"/>
<line x1="527.95" y1="178.24" x2="527.95" y2="180.04" stroke="#222" stroke-width="0.60"/>
<line x1="527.95" y1="181.87" x2="527.95" y2="183.67" stroke="#222" stroke-width="0.60"/>
<line x1="527.95" y1="185.50" x2="527.95" y2="187.30" stroke="#222" stroke-width="0.60"/>
<line x1="527.95" y1="189.13" x2="527.95" y2="190.93" stroke="#222" stroke-width="0.60"/>
<line x1="527.95" y1="192.76" x2="527.95" y2="194.56" stroke="#222" stroke-width="0.60"/>
<line x1="527.95" y1="196.39" x2="527.95" y2="198.19" stroke="#222" stroke-width="0.60"/>
<line x1="527.95" y1="200.02" x2="527.95" y2="201.82" stroke="#222" stroke-width="0.60"/>
<line x1="527.95" y1="203.65" x2="527.95" y2="205.45" stroke="#222" stroke-width="0.60"/>
<line x1="527.95" y1="207.28" x2="527.95" y2="209.08" stroke="#222" stroke-width="0.60"/>
<line x1="527.95" y1="210.91" x2="527.95" y2="212.71" stroke="#222" stroke-width="0.60"/>
<line x1="527.95" y1="214.54" x2="527.95" y2="216.34" stroke="#222" stroke-width="0.60"/>
<line x1="527.95" y1="218.17" x2="527.95" y2="219.97" stroke="#222" stroke-width="0.60"/>
<line x1="527.95" y1="221.80" x2="527.95" y2="223.60" stroke="#222" stroke-width="0.60"/>
<line x1="527.95" y1="225.43" x2="527.95" y2="227.23" stroke="#222" stroke-width="0.60"/>
<line x1="527.95" y1="229.06" x2="527.95" y2="230.86" stroke="#222" stroke-width="0.60"/>
<line x1="527.95" y1="232.69" x2="527.95" y2="234.49" stroke="#222" stroke-width="0.60"/>
<line x1="416.84" y1="224.95" x2="419.04" y2="224.95" stroke="#333" stroke-width="0.70"/>
<line x1="428.95" y1="234.82" x2="428.95" y2="237.02" stroke="#333" stroke-width="0.70"/>
<text transform="translate(415.30,228.26) scale(0.845,1.000)" font-family="Liberation Sans, sans-serif" font-size="7.80" fill="#4d4d4d" stroke="#4d4d4d" stroke-width="0.08" text-anchor="end" font-weight="normal">-1.0</text>
<text transform="translate(428.95,244.80) scale(0.845,1.000)" font-family="Liberation Sans, sans-serif" font-size="7.80" fill="#4d4d4d" stroke="#4d4d4d" stroke-width="0.08" text-anchor="middle" font-weight="normal">-1.0</text>
<line x1="416.84" y1="175.60" x2="419.04" y2="175.60" stroke="#333" stroke-width="0.70"/>
<line x1="478.48" y1="234.82" x2="478.48" y2="237.02" stroke="#333" stroke-width="0.70"/>
<text transform="translate(415.30,178.91) scale(0.845,1.000)" font-family="Liberation Sans, sans-serif" font-size="7.80" fill="#4d4d4d" stroke="#4d4d4d" stroke-width="0.08" text-anchor="end" font-weight="normal">-0.5</text>
<text transform="translate(478.48,244.80) scale(0.845,1.000)" font-family="Liberation Sans, sans-serif" font-size="7.80" fill="#4d4d4d" stroke="#4d4d4d" stroke-width="0.08" text-anchor="middle" font-weight="normal">-0.5</text>
<line x1="416.84" y1="126.25" x2="419.04" y2="126.25" stroke="#333" stroke-width="0.70"/>
<line x1="528.00" y1="234.82" x2="528.00" y2="237.02" stroke="#333" stroke-width="0.70"/>
<text transform="translate(415.30,129.56) scale(0.845,1.000)" font-family="Liberation Sans, sans-serif" font-size="7.80" fill="#4d4d4d" stroke="#4d4d4d" stroke-width="0.08" text-anchor="end" font-weight="normal">0.0</text>
<text transform="translate(528.00,244.80) scale(0.845,1.000)" font-family="Liberation Sans, sans-serif" font-size="7.80" fill="#4d4d4d" stroke="#4d4d4d" stroke-width="0.08" text-anchor="middle" font-weight="normal">0.0</text>
<line x1="416.84" y1="76.90" x2="419.04" y2="76.90" stroke="#333" stroke-width="0.70"/>
<line x1="577.52" y1="234.82" x2="577.52" y2="237.02" stroke="#333" stroke-width="0.70"/>
<text transform="translate(415.30,80.21) scale(0.845,1.000)" font-family="Liberation Sans, sans-serif" font-size="7.80" fill="#4d4d4d" stroke="#4d4d4d" stroke-width="0.08" text-anchor="end" font-weight="normal">0.5</text>
<text transform="translate(577.52,244.80) scale(0.845,1.000)" font-family="Liberation Sans, sans-serif" font-size="7.80" fill="#4d4d4d" stroke="#4d4d4d" stroke-width="0.08" text-anchor="middle" font-weight="normal">0.5</text>
<line x1="416.84" y1="27.55" x2="419.04" y2="27.55" stroke="#333" stroke-width="0.70"/>
<line x1="627.05" y1="234.82" x2="627.05" y2="237.02" stroke="#333" stroke-width="0.70"/>
<text transform="translate(415.30,30.86) scale(0.845,1.000)" font-family="Liberation Sans, sans-serif" font-size="7.80" fill="#4d4d4d" stroke="#4d4d4d" stroke-width="0.08" text-anchor="end" font-weight="normal">1.0</text>
<text transform="translate(627.05,244.80) scale(0.845,1.000)" font-family="Liberation Sans, sans-serif" font-size="7.80" fill="#4d4d4d" stroke="#4d4d4d" stroke-width="0.08" text-anchor="middle" font-weight="normal">1.0</text>
<line x1="527.95" y1="126.05" x2="457.50" y2="63.10" stroke="#1d09c7" stroke-width="0.60"/>
<line x1="457.50" y1="63.10" x2="461.61" y2="63.96" stroke="#1d09c7" stroke-width="0.60"/>
<line x1="457.50" y1="63.10" x2="458.81" y2="67.09" stroke="#1d09c7" stroke-width="0.60"/>
<line x1="527.95" y1="126.05" x2="456.30" y2="68.80" stroke="#6a0fb5" stroke-width="0.60"/>
<line x1="456.30" y1="68.80" x2="460.45" y2="69.43" stroke="#6a0fb5" stroke-width="0.60"/>
<line x1="456.30" y1="68.80" x2="457.83" y2="72.71" stroke="#6a0fb5" stroke-width="0.60"/>
<line x1="527.95" y1="126.05" x2="446.60" y2="84.50" stroke="#7110b1" stroke-width="0.60"/>
<line x1="446.60" y1="84.50" x2="450.79" y2="84.28" stroke="#7110b1" stroke-width="0.60"/>
<line x1="446.60" y1="84.50" x2="448.88" y2="88.02" stroke="#7110b1" stroke-width="0.60"/>
<line x1="527.95" y1="126.05" x2="447.20" y2="85.10" stroke="#7a10ab" stroke-width="0.60"/>
<line x1="447.20" y1="85.10" x2="451.39" y2="84.87" stroke="#7a10ab" stroke-width="0.60"/>
<line x1="447.20" y1="85.10" x2="449.49" y2="88.62" stroke="#7a10ab" stroke-width="0.60"/>
<line x1="527.95" y1="126.05" x2="440.20" y2="97.90" stroke="#660fb7" stroke-width="0.60"/>
<line x1="440.20" y1="97.90" x2="444.30" y2="97.01" stroke="#660fb7" stroke-width="0.60"/>
<line x1="440.20" y1="97.90" x2="443.02" y2="101.01" stroke="#660fb7" stroke-width="0.60"/>
<line x1="527.95" y1="126.05" x2="440.70" y2="98.50" stroke="#6f10b2" stroke-width="0.60"/>
<line x1="440.70" y1="98.50" x2="444.80" y2="97.59" stroke="#6f10b2" stroke-width="0.60"/>
<line x1="440.70" y1="98.50" x2="443.54" y2="101.60" stroke="#6f10b2" stroke-width="0.60"/>
<line x1="527.95" y1="126.05" x2="438.90" y2="112.60" stroke="#8111a7" stroke-width="0.60"/>
<line x1="438.90" y1="112.60" x2="442.81" y2="111.07" stroke="#8111a7" stroke-width="0.60"/>
<line x1="438.90" y1="112.60" x2="442.18" y2="115.22" stroke="#8111a7" stroke-width="0.60"/>
<line x1="527.95" y1="126.05" x2="441.20" y2="123.20" stroke="#9a128e" stroke-width="0.60"/>
<line x1="441.20" y1="123.20" x2="444.90" y2="121.22" stroke="#9a128e" stroke-width="0.60"/>
<line x1="441.20" y1="123.20" x2="444.77" y2="125.42" stroke="#9a128e" stroke-width="0.60"/>
<line x1="527.95" y1="126.05" x2="455.00" y2="128.00" stroke="#cf1429" stroke-width="0.60"/>
<line x1="455.00" y1="128.00" x2="458.58" y2="125.80" stroke="#cf1429" stroke-width="0.60"/>
<line x1="455.00" y1="128.00" x2="458.69" y2="130.00" stroke="#cf1429" stroke-width="0.60"/>
<line x1="527.95" y1="126.05" x2="455.50" y2="133.70" stroke="#d01428" stroke-width="0.60"/>
<line x1="455.50" y1="133.70" x2="458.90" y2="131.23" stroke="#d01428" stroke-width="0.60"/>
<line x1="455.50" y1="133.70" x2="459.34" y2="135.41" stroke="#d01428" stroke-width="0.60"/>
<line x1="527.95" y1="126.05" x2="446.30" y2="132.80" stroke="#b3136a" stroke-width="0.60"/>
<line x1="446.30" y1="132.80" x2="449.75" y2="130.41" stroke="#b3136a" stroke-width="0.60"/>
<line x1="446.30" y1="132.80" x2="450.10" y2="134.59" stroke="#b3136a" stroke-width="0.60"/>
<line x1="527.95" y1="126.05" x2="451.10" y2="146.90" stroke="#bc145b" stroke-width="0.60"/>
<line x1="451.10" y1="146.90" x2="454.06" y2="143.92" stroke="#bc145b" stroke-width="0.60"/>
<line x1="451.10" y1="146.90" x2="455.16" y2="147.97" stroke="#bc145b" stroke-width="0.60"/>
<line x1="527.95" y1="126.05" x2="443.20" y2="152.00" stroke="#8d129c" stroke-width="0.60"/>
<line x1="443.20" y1="152.00" x2="446.06" y2="148.93" stroke="#8d129c" stroke-width="0.60"/>
<line x1="443.20" y1="152.00" x2="447.29" y2="152.94" stroke="#8d129c" stroke-width="0.60"/>
<line x1="527.95" y1="126.05" x2="457.10" y2="159.40" stroke="#c11451" stroke-width="0.60"/>
<line x1="457.10" y1="159.40" x2="459.50" y2="155.95" stroke="#c11451" stroke-width="0.60"/>
<line x1="457.10" y1="159.40" x2="461.29" y2="159.75" stroke="#c11451" stroke-width="0.60"/>
<line x1="527.95" y1="126.05" x2="445.10" y2="161.90" stroke="#7f11a7" stroke-width="0.60"/>
<line x1="445.10" y1="161.90" x2="447.60" y2="158.53" stroke="#7f11a7" stroke-width="0.60"/>
<line x1="445.10" y1="161.90" x2="449.27" y2="162.38" stroke="#7f11a7" stroke-width="0.60"/>
<line x1="527.95" y1="126.05" x2="451.10" y2="166.10" stroke="#9c128d" stroke-width="0.60"/>
<line x1="451.10" y1="166.10" x2="453.36" y2="162.56" stroke="#9c128d" stroke-width="0.60"/>
<line x1="451.10" y1="166.10" x2="455.30" y2="166.28" stroke="#9c128d" stroke-width="0.60"/>
<line x1="527.95" y1="126.05" x2="455.20" y2="165.60" stroke="#b01371" stroke-width="0.60"/>
<line x1="455.20" y1="165.60" x2="457.39" y2="162.02" stroke="#b01371" stroke-width="0.60"/>
<line x1="455.20" y1="165.60" x2="459.40" y2="165.71" stroke="#b01371" stroke-width="0.60"/>
<line x1="527.95" y1="126.05" x2="473.70" y2="167.00" stroke="#d55d1e" stroke-width="0.60"/>
<line x1="473.70" y1="167.00" x2="475.34" y2="163.13" stroke="#d55d1e" stroke-width="0.60"/>
<line x1="473.70" y1="167.00" x2="477.87" y2="166.48" stroke="#d55d1e" stroke-width="0.60"/>
<line x1="527.95" y1="126.05" x2="476.50" y2="174.40" stroke="#d63619" stroke-width="0.60"/>
<line x1="476.50" y1="174.40" x2="477.71" y2="170.38" stroke="#d63619" stroke-width="0.60"/>
<line x1="476.50" y1="174.40" x2="480.59" y2="173.44" stroke="#d63619" stroke-width="0.60"/>
<line x1="527.95" y1="126.05" x2="583.00" y2="94.40" stroke="#d08023" stroke-width="0.60"/>
<line x1="583.00" y1="94.40" x2="580.89" y2="98.03" stroke="#d08023" stroke-width="0.60"/>
<line x1="583.00" y1="94.40" x2="578.80" y2="94.39" stroke="#d08023" stroke-width="0.60"/>
<line x1="527.95" y1="126.05" x2="556.40" y2="142.40" stroke="#25e525" stroke-width="0.60"/>
<line x1="556.40" y1="142.40" x2="552.20" y2="142.41" stroke="#25e525" stroke-width="0.60"/>
<line x1="556.40" y1="142.40" x2="554.29" y2="138.77" stroke="#25e525" stroke-width="0.60"/>
<line x1="527.95" y1="126.05" x2="560.80" y2="153.30" stroke="#88d82b" stroke-width="0.60"/>
<line x1="560.80" y1="153.30" x2="556.66" y2="152.59" stroke="#88d82b" stroke-width="0.60"/>
<line x1="560.80" y1="153.30" x2="559.34" y2="149.36" stroke="#88d82b" stroke-width="0.60"/>
<line x1="447.60" y1="93.60" x2="440.60" y2="97.90" stroke="#7d2dbd" stroke-width="0.65"/>
<line x1="438.30" y1="141.50" x2="446.00" y2="133.20" stroke="#b43078" stroke-width="0.65"/>
<line x1="442.00" y1="178.20" x2="450.80" y2="166.60" stroke="#8f2fb3" stroke-width="0.65"/>
<text transform="translate(458.80,59.60) scale(0.983,1.000)" font-family="Liberation Sans, sans-serif" font-size="8.80" fill="#0707c7" stroke="#0707c7" stroke-width="0.12" text-anchor="start" font-weight="normal">Mn</text>
<text transform="translate(442.60,65.80) scale(0.983,1.000)" font-family="Liberation Sans, sans-serif" font-size="8.80" fill="#6d10b4" stroke="#6d10b4" stroke-width="0.12" text-anchor="start" font-weight="normal">Fe</text>
<text transform="translate(443.80,80.55) scale(0.983,1.000)" font-family="Liberation Sans, sans-serif" font-size="8.80" fill="#7310b0" stroke="#7310b0" stroke-width="0.12" text-anchor="start" font-weight="normal">MBC</text>
<text transform="translate(425.10,94.10) scale(0.983,1.000)" font-family="Liberation Sans, sans-serif" font-size="8.80" fill="#7310b0" stroke="#7310b0" stroke-width="0.12" text-anchor="start" font-weight="normal">DHA</text>
<text transform="translate(448.60,95.80) scale(0.983,1.000)" font-family="Liberation Sans, sans-serif" font-size="8.80" fill="#6d10b4" stroke="#6d10b4" stroke-width="0.12" text-anchor="start" font-weight="normal">K</text>
<text transform="translate(422.30,108.55) scale(0.983,1.000)" font-family="Liberation Sans, sans-serif" font-size="8.80" fill="#6d10b4" stroke="#6d10b4" stroke-width="0.12" text-anchor="start" font-weight="normal">Glom</text>
<text transform="translate(444.50,120.65) scale(0.983,1.000)" font-family="Liberation Sans, sans-serif" font-size="8.80" fill="#8e129b" stroke="#8e129b" stroke-width="0.12" text-anchor="start" font-weight="normal">S</text>
<text transform="translate(456.90,124.55) scale(0.983,1.000)" font-family="Liberation Sans, sans-serif" font-size="8.80" fill="#d1131e" stroke="#d1131e" stroke-width="0.12" text-anchor="start" font-weight="normal">Cu</text>
<text transform="translate(431.50,133.85) scale(0.983,1.000)" font-family="Liberation Sans, sans-serif" font-size="8.80" fill="#9d128a" stroke="#9d128a" stroke-width="0.12" text-anchor="start" font-weight="normal">N</text>
<text transform="translate(445.90,143.55) scale(0.983,1.000)" font-family="Liberation Sans, sans-serif" font-size="8.80" fill="#b01371" stroke="#b01371" stroke-width="0.12" text-anchor="start" font-weight="normal">P</text>
<text transform="translate(459.70,143.55) scale(0.983,1.000)" font-family="Liberation Sans, sans-serif" font-size="8.80" fill="#d1131e" stroke="#d1131e" stroke-width="0.12" text-anchor="start" font-weight="normal">B</text>
<text transform="translate(421.50,149.35) scale(0.983,1.000)" font-family="Liberation Sans, sans-serif" font-size="8.80" fill="#aa137a" stroke="#aa137a" stroke-width="0.12" text-anchor="start" font-weight="normal">GLUA</text>
<text transform="translate(454.20,156.35) scale(0.983,1.000)" font-family="Liberation Sans, sans-serif" font-size="8.80" fill="#c2144f" stroke="#c2144f" stroke-width="0.12" text-anchor="start" font-weight="normal">MSC</text>
<text transform="translate(422.30,161.35) scale(0.983,1.000)" font-family="Liberation Sans, sans-serif" font-size="8.80" fill="#8511a3" stroke="#8511a3" stroke-width="0.12" text-anchor="start" font-weight="normal">SOC</text>
<text transform="translate(426.20,173.25) scale(0.983,1.000)" font-family="Liberation Sans, sans-serif" font-size="8.80" fill="#8e129b" stroke="#8e129b" stroke-width="0.12" text-anchor="start" font-weight="normal">PMN</text>
<text transform="translate(451.00,178.20) scale(0.983,1.000)" font-family="Liberation Sans, sans-serif" font-size="8.80" fill="#b01371" stroke="#b01371" stroke-width="0.12" text-anchor="start" font-weight="normal">MWD</text>
<text transform="translate(434.80,186.75) scale(0.983,1.000)" font-family="Liberation Sans, sans-serif" font-size="8.80" fill="#9d128a" stroke="#9d128a" stroke-width="0.12" text-anchor="start" font-weight="normal">Ks</text>
<text transform="translate(478.00,168.50) scale(0.983,1.000)" font-family="Liberation Sans, sans-serif" font-size="8.80" fill="#d65e1f" stroke="#d65e1f" stroke-width="0.12" text-anchor="start" font-weight="normal">Zn</text>
<text transform="translate(478.10,185.30) scale(0.983,1.000)" font-family="Liberation Sans, sans-serif" font-size="8.80" fill="#d7411a" stroke="#d7411a" stroke-width="0.12" text-anchor="start" font-weight="normal">WHC</text>
<text transform="translate(583.00,91.35) scale(0.983,1.000)" font-family="Liberation Sans, sans-serif" font-size="8.80" fill="#cf8123" stroke="#cf8123" stroke-width="0.12" text-anchor="start" font-weight="normal">BD</text>
<text transform="translate(543.90,139.35) scale(0.983,1.000)" font-family="Liberation Sans, sans-serif" font-size="8.80" fill="#25e525" stroke="#25e525" stroke-width="0.12" text-anchor="start" font-weight="normal">PH</text>
<text transform="translate(561.90,164.15) scale(0.983,1.000)" font-family="Liberation Sans, sans-serif" font-size="8.80" fill="#8bd62b" stroke="#8bd62b" stroke-width="0.12" text-anchor="start" font-weight="normal">EC</text>
<text transform="translate(419.34,11.80) scale(0.978,1.000)" font-family="Liberation Sans, sans-serif" font-size="10.20" fill="#1a1a1a" stroke="#1a1a1a" stroke-width="0.15" text-anchor="start" font-weight="normal">Variables - PCA</text>
<text transform="translate(527.50,253.30) scale(1.058,1.000)" font-family="Liberation Sans, sans-serif" font-size="7.60" fill="#1a1a1a" stroke="#1a1a1a" stroke-width="0.12" text-anchor="middle" font-weight="normal">Dim1 (55.7%)</text>
<text transform="translate(401.30,126.25) rotate(-90) scale(1.000,1.100)" font-family="Liberation Sans, sans-serif" font-size="8.25" fill="#1a1a1a" stroke="#1a1a1a" stroke-width="0.12" text-anchor="middle" font-weight="normal">Dim2 (12%)</text>
<defs><linearGradient id="gR" x1="0" y1="0" x2="0" y2="1"><stop offset="0.000" stop-color="#0000ff"/><stop offset="0.050" stop-color="#6800e7"/><stop offset="0.100" stop-color="#8d00ce"/><stop offset="0.150" stop-color="#a600b7"/><stop offset="0.200" stop-color="#ba009f"/><stop offset="0.250" stop-color="#ca0088"/><stop offset="0.300" stop-color="#d70072"/><stop offset="0.350" stop-color="#e3005b"/><stop offset="0.400" stop-color="#ed0044"/><stop offset="0.450" stop-color="#f6002a"/><stop offset="0.500" stop-color="#ff0000"/><stop offset="0.550" stop-color="#f74a00"/><stop offset="0.600" stop-color="#ed6a00"/><stop offset="0.650" stop-color="#e38200"/><stop offset="0.700" stop-color="#d79800"/><stop offset="0.750" stop-color="#c9ab00"/><stop offset="0.800" stop-color="#b8bd00"/><stop offset="0.850" stop-color="#a4ce00"/><stop offset="0.900" stop-color="#8adf00"/><stop offset="0.950" stop-color="#65ef00"/><stop offset="1.000" stop-color="#00ff00"/></linearGradient></defs>
<rect x="649.10" y="99.80" width="13.70" height="65.00" fill="url(#gR)"/>
<text transform="translate(648.60,95.20)" font-family="Liberation Sans, sans-serif" font-size="8.30" fill="#1a1a1a" stroke="#1a1a1a" stroke-width="0.12" text-anchor="start" font-weight="normal">cos2</text>
<line x1="649.10" y1="113.60" x2="651.84" y2="113.60" stroke="#ffffff" stroke-width="0.60" stroke-opacity="0.8"/>
<line x1="660.06" y1="113.60" x2="662.80" y2="113.60" stroke="#ffffff" stroke-width="0.60" stroke-opacity="0.8"/>
<text transform="translate(666.20,116.76) scale(0.845,1.000)" font-family="Liberation Sans, sans-serif" font-size="7.80" fill="#4d4d4d" stroke="#4d4d4d" stroke-width="0.08" text-anchor="start" font-weight="normal">0.75</text>
<line x1="649.10" y1="134.00" x2="651.84" y2="134.00" stroke="#ffffff" stroke-width="0.60" stroke-opacity="0.8"/>
<line x1="660.06" y1="134.00" x2="662.80" y2="134.00" stroke="#ffffff" stroke-width="0.60" stroke-opacity="0.8"/>
<text transform="translate(666.20,137.16) scale(0.845,1.000)" font-family="Liberation Sans, sans-serif" font-size="7.80" fill="#4d4d4d" stroke="#4d4d4d" stroke-width="0.08" text-anchor="start" font-weight="normal">0.50</text>
<line x1="649.10" y1="154.40" x2="651.84" y2="154.40" stroke="#ffffff" stroke-width="0.60" stroke-opacity="0.8"/>
<line x1="660.06" y1="154.40" x2="662.80" y2="154.40" stroke="#ffffff" stroke-width="0.60" stroke-opacity="0.8"/>
<text transform="translate(666.20,157.56) scale(0.845,1.000)" font-family="Liberation Sans, sans-serif" font-size="7.80" fill="#4d4d4d" stroke="#4d4d4d" stroke-width="0.08" text-anchor="start" font-weight="normal">0.25</text>
<text transform="translate(285.60,224.90)" font-family="Liberation Serif, serif" font-size="17.60" fill="#111" stroke="#111" stroke-width="0.20" text-anchor="start" font-weight="normal">a</text>
<text transform="translate(653.30,237.30)" font-family="Liberation Serif, serif" font-size="17.00" fill="#111" stroke="#111" stroke-width="0.20" text-anchor="start" font-weight="normal">b</text>
</svg>
</body></html>
